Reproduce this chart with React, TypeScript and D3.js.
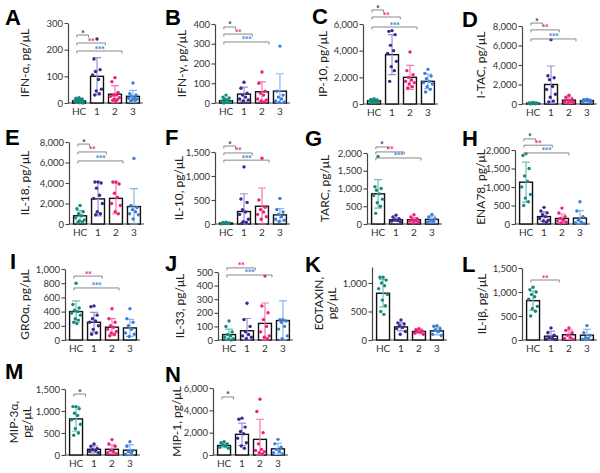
import React, { useEffect, useRef } from 'react';
import * as d3 from 'd3';

// groups and colours
const groups = ['HC', '1', '2', '3'];
const dotColors = ['#17897b', '#3a2a8e', '#ec1f7a', '#3b7fd6'];
const errColors = ['#6fc1b4', '#9d90d4', '#f27aaa', '#8db7ea'];

const letters = ['A', 'B', 'C', 'D', 'E', 'F', 'G', 'H', 'I', 'J', 'K', 'L', 'M', 'N'];
const yLabels = [
  ['IFN-α, pg/μL'], ['IFN-γ, pg/μL'], ['IP-10, pg/μL'], ['I-TAC, pg/μL'],
  ['IL-18, pg/μL'], ['IL-10, pg/μL'], ['TARC, pg/μL'], ['ENA78, pg/μL'],
  ['GROα, pg/μL'], ['IL-33, pg/μL'], ['EOTAXIN,', 'pg/μL'], ['IL-Iβ, pg/μL'],
  ['MIP-3α,', 'pg/μL'], ['MIP-1, pg/μL'],
];
const yMax = [300, 400, 6000, 8000, 8000, 1500, 2000, 2000, 1000, 500, 1280, 1500, 1500, 6000];
const yTicks = [
  [0, 100, 200, 300], [0, 100, 200, 300, 400], [0, 2000, 4000, 6000], [0, 2000, 4000, 6000, 8000],
  [0, 2000, 4000, 6000, 8000], [0, 500, 1000, 1500], [0, 500, 1000, 1500, 2000], [0, 500, 1000, 1500, 2000],
  [0, 200, 400, 600, 800, 1000], [0, 100, 200, 300, 400, 500], [0, 500, 1000], [0, 500, 1000, 1500],
  [0, 500, 1000, 1500], [0, 2000, 4000, 6000],
];

// mean and SD per group (HC, 1, 2, 3)
const means = [
  [8, 100, 33, 25], [12, 45, 57, 60], [250, 3700, 2000, 1700], [80, 2000, 400, 350],
  [800, 2450, 2500, 1700], [20, 260, 370, 190], [850, 120, 120, 130], [1130, 200, 150, 160],
  [400, 250, 180, 170], [40, 68, 122, 143], [820, 230, 150, 160], [820, 80, 110, 100],
  [820, 130, 130, 110], [850, 1850, 1400, 550],
];
const sds = [
  [8, 70, 32, 22], [12, 35, 50, 88], [100, 1500, 900, 550], [40, 1900, 300, 150],
  [500, 1650, 1500, 1750], [10, 370, 380, 130], [400, 50, 60, 90], [540, 130, 120, 200],
  [150, 140, 120, 120], [40, 90, 150, 145], [240, 70, 40, 70], [200, 100, 100, 120],
  [280, 80, 100, 120], [200, 1000, 1800, 500],
];

// individual values
const ifnAlphaPts = [[20, 18, 15, 13, 11, 9, 7, 5, 3, 2, 1, 0], [240, 165, 125, 118, 88, 105, 52, 45, 35, 30], [95, 80, 40, 30, 30, 25, 20, 15, 12, 10, 5], [75, 35, 30, 25, 20, 18, 15, 12, 10, 8]];
const ifnGammaPts = [[40, 30, 25, 20, 15, 10, 5, 3, 2, 0], [105, 75, 50, 40, 30, 20, 15, 10], [157, 100, 60, 50, 40, 20, 15, 10, 5], [288, 60, 40, 30, 20, 10, 5, 3]];
const ip10Pts = [[400, 350, 300, 280, 250, 220, 200, 150, 120, 100], [5500, 5450, 5200, 4400, 4000, 3800, 3200, 2800, 2500, 1700], [3900, 2500, 2200, 2000, 1800, 1700, 1600, 1500, 1300, 1200], [2600, 2300, 2100, 1900, 1700, 1600, 1500, 1300, 1100, 900]];
const itacPts = [[150, 120, 100, 90, 80, 70, 60, 40, 20, 10], [6600, 2900, 2700, 2500, 1800, 1500, 1000, 700, 300, 200], [900, 700, 500, 400, 300, 200, 150, 100], [500, 450, 400, 350, 300, 250, 200]];
const il18Pts = [[1800, 1500, 1200, 1000, 800, 600, 400, 300, 200, 100], [4100, 4100, 4000, 3500, 2800, 2500, 2000, 1200, 1000, 900], [4100, 4100, 3900, 3000, 2600, 2000, 1800, 1200, 1000], [6400, 1800, 1600, 1400, 1200, 1000, 900, 500]];
const il10Pts = [[40, 30, 20, 15, 10, 5], [1190, 520, 450, 300, 250, 200, 100, 50, 30, 10], [1370, 500, 350, 300, 250, 200, 150, 100], [530, 300, 250, 200, 150, 100, 80, 50]];
const tarcPts = [[1900, 1050, 1000, 950, 850, 800, 700, 600, 500, 300], [250, 200, 150, 120, 100, 80, 60], [260, 200, 150, 120, 100, 80, 50, 30], [270, 200, 150, 100, 80, 50]];
const ena78Pts = [[1900, 1850, 1500, 1300, 1150, 1000, 800, 700, 600, 500], [450, 350, 300, 250, 200, 150, 100, 80, 50], [430, 300, 200, 150, 100, 80, 50, 30], [600, 350, 200, 100, 50, 30, 10]];
const groPts = [[800, 500, 450, 420, 400, 380, 350, 300, 280, 250, 230], [480, 470, 350, 300, 270, 250, 200, 150, 100, 80], [440, 300, 250, 200, 180, 150, 120, 100, 80, 60], [440, 300, 250, 200, 150, 100, 80, 50]];
const il33Pts = [[140, 100, 60, 40, 30, 20, 10, 5, 0], [270, 150, 100, 60, 40, 30, 20, 10], [470, 250, 200, 150, 100, 60, 30, 20, 10], [150, 150, 140, 130, 100, 80, 30, 10]];
const eotaxinPts = [[1100, 1100, 1050, 1000, 950, 900, 800, 700, 600, 500, 450], [350, 300, 280, 250, 220, 200, 150, 100], [200, 180, 160, 150, 140, 120, 100], [250, 240, 200, 180, 150, 100, 80]];
const il1bPts = [[1100, 1050, 1000, 950, 900, 850, 700, 650, 600, 500], [250, 150, 100, 50, 30, 20, 10], [250, 200, 150, 100, 50, 30, 10], [300, 150, 100, 50, 30, 10]];
const mip3aPts = [[1100, 1100, 1050, 950, 900, 800, 700, 600, 500, 450], [250, 200, 150, 120, 100, 80, 50], [350, 250, 200, 100, 80, 50, 30], [300, 200, 100, 80, 50, 20]];
const mip1Pts = [[1200, 1100, 1000, 900, 800, 700, 600], [3300, 3200, 2500, 2100, 1900, 1500, 1100, 800, 600], [5000, 3900, 2000, 1000, 500, 400, 300, 200, 100], [1400, 1000, 700, 500, 300, 200, 100]];
const points = [ifnAlphaPts, ifnGammaPts, ip10Pts, itacPts, il18Pts, il10Pts, tarcPts, ena78Pts, groPts, il33Pts, eotaxinPts, il1bPts, mip3aPts, mip1Pts];

// significance brackets: HC vs group g, drawn at value y
type Bracket = { g: number; stars: string; y: number };
const allThree = (a: number, b: number, c: number): Bracket[] => [
  { g: 1, stars: '*', y: a }, { g: 2, stars: '**', y: b }, { g: 3, stars: '***', y: c },
];
const brackets: Bracket[][] = [
  allThree(255, 225, 195), allThree(385, 349, 309), allThree(7050, 6525, 5775), allThree(8300, 7600, 6670),
  allThree(7800, 7030, 6150), allThree(1625, 1480, 1330), allThree(2170, 2030, 1860), allThree(2300, 2130, 1920),
  [{ g: 2, stars: '**', y: 900 }, { g: 3, stars: '***', y: 733 }],
  [{ g: 2, stars: '**', y: 530 }, { g: 3, stars: '***', y: 478 }],
  [],
  [{ g: 2, stars: '**', y: 1250 }],
  [{ g: 1, stars: '*', y: 1385 }],
  [{ g: 1, stars: '*', y: 5200 }],
];

// panel placement: axis x, top y, baseline y, label x, letter x/y
const layout = [
  { ax: 68, top: 23, base: 103, lx: 25, kx: 5, ky: 25 },
  { ax: 215, top: 24, base: 103, lx: 182, kx: 165, ky: 25 },
  { ax: 363, top: 24, base: 104, lx: 323, kx: 312, ky: 24 },
  { ax: 522, top: 26, base: 104, lx: 481, kx: 462, ky: 27 },
  { ax: 69, top: 142, base: 224, lx: 25, kx: 5, ky: 145 },
  { ax: 215, top: 152, base: 224, lx: 179, kx: 165, ky: 145 },
  { ax: 367, top: 153, base: 224, lx: 325, kx: 305, ky: 146 },
  { ax: 515, top: 150, base: 224, lx: 481, kx: 462, ky: 146 },
  { ax: 65, top: 269, base: 340, lx: 25, kx: 10, ky: 269 },
  { ax: 218, top: 272, base: 340, lx: 180, kx: 165, ky: 271 },
  { ax: 372, top: 267, base: 340, lx: 325, kx: 305, ky: 272 },
  { ax: 522, top: 268, base: 340, lx: 482, kx: 462, ky: 272 },
  { ax: 65, top: 389, base: 455, lx: 20, kx: 5, ky: 379 },
  { ax: 213, top: 388, base: 455, lx: 177, kx: 165, ky: 382 },
];

const plotW = 75;
const jitter = [0, -0.6, 0.6, -0.3, 0.3, -0.85, 0.85, -0.15, 0.45, -0.45, 0.15, 0.75];
const font = 'Lato, "Open Sans", sans-serif';

const App: React.FC = () => {
  const ref = useRef<SVGSVGElement>(null);

  useEffect(() => {
    const svg = d3.select(ref.current);
    svg.selectAll('*').remove();

    layout.forEach((p, i) => {
      const g = svg.append('g');
      const x = d3.scaleBand<string>().domain(groups)
        .range([p.ax + 1, p.ax + plotW]).paddingInner(0.28).paddingOuter(0.2);
      const y = d3.scaleLinear().domain([0, yMax[i]]).range([p.base, p.top]);
      const bw = x.bandwidth();
      const step = x.step();
      const cx = (k: number) => (x(groups[k]) as number) + bw / 2;

      // panel letter
      g.append('text').attr('x', p.kx).attr('y', p.ky)
        .attr('font-family', '"Liberation Sans", Arial, sans-serif')
        .attr('font-weight', 'bold').attr('font-size', 22).text(letters[i]);

      // y label
      const lines = yLabels[i];
      const lab = g.append('text')
        .attr('transform', `translate(${p.lx},${(p.top + p.base) / 2}) rotate(-90)`)
        .attr('text-anchor', 'middle').attr('font-family', font)
        .attr('font-size', 12).attr('fill', '#222');
      lines.forEach((t, k) => {
        lab.append('tspan').attr('x', 0)
          .attr('dy', k === 0 ? `${0.35 - (lines.length - 1) * 0.55}em` : '1.12em')
          .text(t);
      });

      // y axis
      const axis = g.append('g').attr('transform', `translate(${p.ax},0)`)
        .call(d3.axisLeft(y).tickValues(yTicks[i]).tickSize(3.5).tickSizeOuter(0)
          .tickPadding(1.5).tickFormat(d3.format(',')));
      axis.select('.domain').attr('stroke', '#444').attr('stroke-width', 1.2);
      axis.selectAll('.tick line').attr('stroke', '#444').attr('stroke-width', 1.1);
      axis.selectAll('.tick text').attr('font-family', font).attr('font-size', 9.5).attr('fill', '#333');

      // x axis
      g.append('line').attr('x1', p.ax).attr('x2', p.ax + plotW)
        .attr('y1', p.base).attr('y2', p.base).attr('stroke', '#444').attr('stroke-width', 1.2);
      g.selectAll('.xl').data(groups).enter().append('text')
        .attr('x', (d) => (x(d) as number) + bw / 2).attr('y', p.base + 12)
        .attr('text-anchor', 'middle').attr('font-family', font)
        .attr('font-size', 10).attr('fill', '#333').text((d) => d);

      // bars and SD error bars
      groups.forEach((grp, k) => {
        const m = means[i][k];
        const s = sds[i][k];
        g.append('rect').attr('x', x(grp) as number).attr('width', bw)
          .attr('y', y(m)).attr('height', p.base - y(m))
          .attr('fill', '#fff').attr('stroke', '#111').attr('stroke-width', 1.4);
        const lo = y(Math.max(0, m - s));
        const hi = y(m + s);
        const c = cx(k);
        g.append('path')
          .attr('d', `M${c},${lo}V${hi}M${c - 4},${hi}H${c + 4}M${c - 4},${lo}H${c + 4}`)
          .attr('stroke', errColors[k]).attr('stroke-width', 1.2).attr('fill', 'none');
      });

      // points
      groups.forEach((grp, k) => {
        g.selectAll(`.pt${k}`).data(points[i][k]).enter().append('circle')
          .attr('cx', (_d, j) => cx(k) + jitter[j % jitter.length] * bw * 0.4)
          .attr('cy', (d) => y(d)).attr('r', 1.7).attr('fill', dotColors[k]);
      });

      // brackets
      brackets[i].forEach((b) => {
        const xs = cx(0) - 0.12 * step;
        const xe = cx(0) + (b.g * 0.93 - 0.4) * step;
        const yb = y(b.y);
        g.append('path').attr('d', `M${xs},${yb + 2.5}V${yb}H${xe}V${yb + 2.5}`)
          .attr('stroke', '#888').attr('stroke-width', 1).attr('fill', 'none');
        g.append('text').attr('x', (xs + xe) / 2).attr('y', yb + 1.5)
          .attr('text-anchor', 'middle').attr('font-family', font).attr('font-weight', 'bold')
          .attr('font-size', 9).attr('letter-spacing', -0.5)
          .attr('fill', dotColors[b.g]).text(b.stars);
      });
    });
  }, []);

  return (
    <svg ref={ref} width={600} height={473}
      style={{ position: 'absolute', left: 0, top: 0, background: '#fff' }} />
  );
};

export default App;
